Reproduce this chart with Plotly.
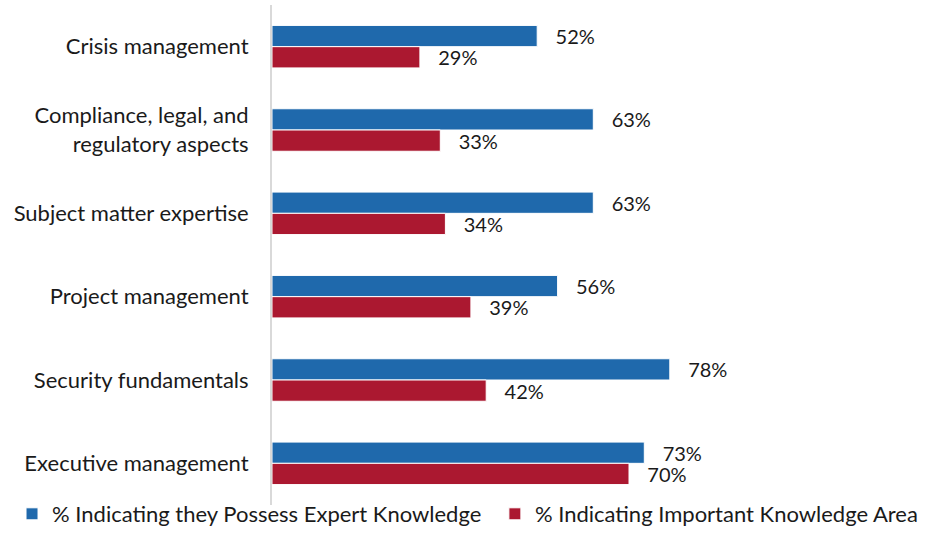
import plotly.graph_objects as go

BLUE = "#1F69AC"
RED = "#AB1830"

categories = [
    "Crisis management",
    "Compliance, legal, and<br>regulatory aspects",
    "Subject matter expertise",
    "Project management",
    "Security fundamentals",
    "Executive management",
]
expert = [52, 63, 63, 56, 78, 73]
important = [29, 33, 34, 39, 42, 70]

fig = go.Figure()
fig.add_trace(go.Bar(
    y=categories, x=expert, orientation="h",
    name="% Indicating they Possess Expert Knowledge",
    marker=dict(color=BLUE, line=dict(color="white", width=1)),
    text=[f"   {v}%" for v in expert], textposition="outside",
    textfont=dict(size=20), cliponaxis=False, legend="legend",
))
fig.add_trace(go.Bar(
    y=categories, x=important, orientation="h",
    name="% Indicating Important Knowledge Area",
    marker=dict(color=RED, line=dict(color="white", width=1)),
    text=[f"   {v}%" for v in important], textposition="outside",
    textfont=dict(size=20), cliponaxis=False, legend="legend2",
))

legend_style = dict(orientation="h", xanchor="left", xref="container",
                    y=-0.025, yanchor="bottom", yref="container",
                    font=dict(size=22), itemwidth=30, bgcolor="rgba(0,0,0,0)")

fig.update_layout(
    width=925, height=535,
    margin=dict(l=272, r=143, t=5, b=30, autoexpand=False),
    barmode="group", bargap=0.49, bargroupgap=0.0,
    plot_bgcolor="white", paper_bgcolor="white",
    font=dict(family="Lato, Open Sans, sans-serif", size=22, color="#1a1a1a"),
    xaxis=dict(range=[0, 100], visible=False),
    yaxis=dict(autorange="reversed", showline=True, linecolor="#D9D9D9",
               linewidth=2, ticks="", ticklabelstandoff=17, showgrid=False,
               automargin=False),
    showlegend=True,
    legend=dict(x=0.013, **legend_style),
    legend2=dict(x=0.535, **legend_style),
    uniformtext=dict(minsize=20, mode="show"),
)
fig.write_html("out.html", config={"displayModeBar": False},
               post_script="document.body.style.margin='0';")
